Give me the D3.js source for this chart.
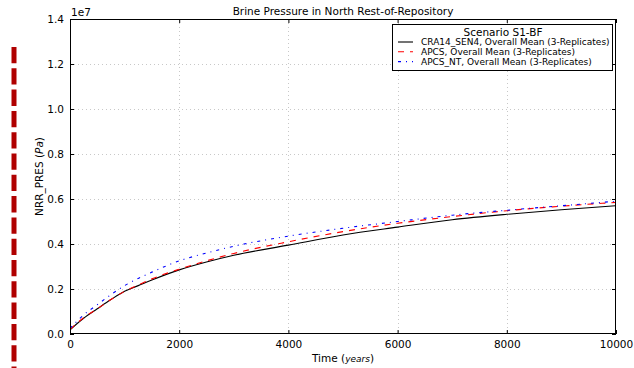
<!DOCTYPE html>
<html>
<head>
<meta charset="utf-8">
<script src="https://cdn.jsdelivr.net/npm/d3@7"></script>
<style>
  html, body { margin: 0; padding: 0; background: #fff; }
  svg { display: block; font-family: "DejaVu Sans", sans-serif; }
</style>
</head>
<body>
<svg id="chart" width="634" height="368"></svg>
<script>
// Time axis (years) and mean brine pressure (Pa) for each scenario run
const times = [0, 100, 250, 500, 750, 1000, 1250, 1500, 2000, 2500, 3000, 4000, 5000, 6000, 7000, 8000, 9000, 10000];
const cra14Sen4 = [0.18e6, 0.40e6, 0.70e6, 1.12e6, 1.53e6, 1.90e6, 2.15e6, 2.40e6, 2.85e6, 3.20e6, 3.50e6, 3.95e6, 4.40e6, 4.75e6, 5.08e6, 5.32e6, 5.52e6, 5.70e6];
const apcs      = [0.20e6, 0.42e6, 0.72e6, 1.12e6, 1.53e6, 1.90e6, 2.18e6, 2.45e6, 2.88e6, 3.25e6, 3.58e6, 4.10e6, 4.55e6, 4.92e6, 5.22e6, 5.48e6, 5.68e6, 5.85e6];
const apcsNt    = [0.25e6, 0.50e6, 0.85e6, 1.30e6, 1.75e6, 2.15e6, 2.47e6, 2.75e6, 3.25e6, 3.60e6, 3.90e6, 4.35e6, 4.70e6, 5.00e6, 5.28e6, 5.50e6, 5.70e6, 5.90e6];

const xTicks = [0, 2000, 4000, 6000, 8000, 10000];
const yTicks = [0, 0.2e7, 0.4e7, 0.6e7, 0.8e7, 1.0e7, 1.2e7, 1.4e7];
const yTickLabels = ["0.0", "0.2", "0.4", "0.6", "0.8", "1.0", "1.2", "1.4"];

const seriesNames = [
  "CRA14_SEN4, Overall Mean (3-Replicates)",
  "APCS, Overall Mean (3-Replicates)",
  "APCS_NT, Overall Mean (3-Replicates)"
];
const seriesValues = [cra14Sen4, apcs, apcsNt];
const seriesColors = ["#000000", "#ff0000", "#0000ff"];
const seriesDash = [null, "6,6", "3,5,1,5"];

const svg = d3.select("#chart");
const m = { left: 70, right: 616, top: 19, bottom: 334 };

const x = d3.scaleLinear().domain([0, 10000]).range([m.left, m.right]);
const y = d3.scaleLinear().domain([0, 1.4e7]).range([m.bottom, m.top]);

// Vertical dashed marker at the far left
svg.append("line")
  .attr("x1", 14).attr("x2", 14)
  .attr("y1", 47).attr("y2", 368)
  .attr("stroke", "#b00000")
  .attr("stroke-width", 5)
  .attr("stroke-dasharray", "16.3,5");

// Dotted grid
const grid = svg.append("g").attr("stroke", "#c8c8c8").attr("stroke-width", 1).attr("stroke-dasharray", "1,3");
grid.selectAll(".gx").data(xTicks.slice(1, -1)).join("line")
  .attr("x1", d => Math.round(x(d)) + 0.5).attr("x2", d => Math.round(x(d)) + 0.5)
  .attr("y1", m.top).attr("y2", m.bottom);
grid.selectAll(".gy").data(yTicks.slice(1, -1)).join("line")
  .attr("y1", d => Math.round(y(d)) + 0.5).attr("y2", d => Math.round(y(d)) + 0.5)
  .attr("x1", m.left).attr("x2", m.right);

// Series lines
const line = d3.line()
  .x((d, i) => x(times[i]))
  .y(d => y(d))
  .curve(d3.curveMonotoneX);

const plot = svg.append("g");
plot.append("defs").append("clipPath").attr("id", "clip")
  .append("rect").attr("x", m.left).attr("y", m.top)
  .attr("width", m.right - m.left).attr("height", m.bottom - m.top);

seriesValues.forEach((vals, k) => {
  plot.append("path")
    .attr("d", line(vals))
    .attr("fill", "none")
    .attr("clip-path", "url(#clip)")
    .attr("stroke", seriesColors[k])
    .attr("stroke-width", 1.1)
    .attr("stroke-dasharray", seriesDash[k]);
});

// Axes: inward ticks on all four sides, labels on bottom and left
const axisBottom = d3.axisBottom(x).tickValues(xTicks).tickSizeInner(-4).tickSizeOuter(0).tickPadding(7).tickFormat(d3.format("d"));
const axisTop = d3.axisTop(x).tickValues(xTicks).tickSizeInner(-4).tickSizeOuter(0).tickFormat("");
const axisLeft = d3.axisLeft(y).tickValues(yTicks).tickSizeInner(-4).tickSizeOuter(0).tickPadding(6).tickFormat((d, i) => yTickLabels[i]);
const axisRight = d3.axisRight(y).tickValues(yTicks).tickSizeInner(-4).tickSizeOuter(0).tickFormat("");

function styleAxis(g) {
  g.select(".domain").remove();
  g.selectAll(".tick line").attr("stroke", "#000");
  g.selectAll(".tick text").attr("fill", "#000").attr("font-size", 10.5).attr("font-family", "DejaVu Sans");
}
svg.append("g").attr("transform", `translate(0,${m.bottom})`).call(axisBottom).call(styleAxis);
svg.append("g").attr("transform", `translate(0,${m.top})`).call(axisTop).call(styleAxis);
svg.append("g").attr("transform", `translate(${m.left},0)`).call(axisLeft).call(styleAxis);
svg.append("g").attr("transform", `translate(${m.right},0)`).call(axisRight).call(styleAxis);

// Frame
svg.append("rect")
  .attr("x", m.left + 0.5).attr("y", m.top + 0.5)
  .attr("width", m.right - m.left - 1).attr("height", m.bottom - m.top - 1)
  .attr("fill", "none").attr("stroke", "#000").attr("stroke-width", 1);

// Offset label for the y axis
svg.append("text").attr("x", m.left + 1).attr("y", m.top - 3)
  .attr("font-size", 10.5).text("1e7");

// Title
svg.append("text").attr("x", (m.left + m.right) / 2).attr("y", 15)
  .attr("text-anchor", "middle").attr("font-size", 10.5)
  .text("Brine Pressure in North Rest-of-Repository");

// Axis titles
const xl = svg.append("text").attr("x", (m.left + m.right) / 2).attr("y", 362)
  .attr("text-anchor", "middle").attr("font-size", 10.5);
xl.append("tspan").text("Time (");
xl.append("tspan").attr("font-style", "italic").attr("font-size", 9).text("years");
xl.append("tspan").text(")");

const yl = svg.append("text")
  .attr("transform", `translate(43,${(m.top + m.bottom) / 2}) rotate(-90)`)
  .attr("text-anchor", "middle").attr("font-size", 10.5);
yl.append("tspan").text("NRR_PRES  (");
yl.append("tspan").attr("font-style", "italic").text("Pa");
yl.append("tspan").text(")");

// Legend
const lg = svg.append("g");
lg.append("rect").attr("x", 392.5).attr("y", 24.5).attr("width", 220).attr("height", 46)
  .attr("fill", "#fff").attr("stroke", "#000").attr("stroke-width", 1);
lg.append("text").attr("x", 503).attr("y", 36).attr("text-anchor", "middle")
  .attr("font-size", 10.5).text("Scenario S1-BF");
seriesNames.forEach((name, k) => {
  const cy = 42 + k * 9.8;
  lg.append("line").attr("x1", 398).attr("x2", 413).attr("y1", cy).attr("y2", cy)
    .attr("stroke", seriesColors[k]).attr("stroke-width", 1.1)
    .attr("stroke-dasharray", seriesDash[k]);
  lg.append("text").attr("x", 421).attr("y", cy + 3).attr("font-size", 9).text(name);
});
</script>
</body>
</html>
